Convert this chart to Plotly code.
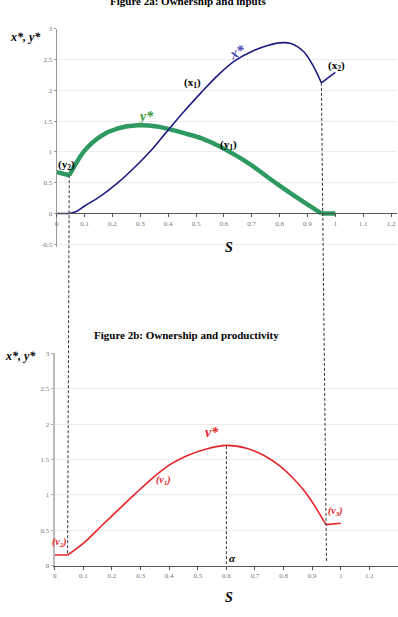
import plotly.graph_objects as go

# ---------------- data ----------------
S_x = [0, 0.045, 0.07, 0.1, 0.16, 0.22, 0.28, 0.34, 0.39, 0.46, 0.52, 0.58, 0.64,
       0.70, 0.76, 0.80, 0.84, 0.886, 0.92, 0.95, 1.0]
x_star = [0, 0, 0.03, 0.12, 0.29, 0.50, 0.75, 1.03, 1.30, 1.67, 1.97, 2.25, 2.48,
          2.63, 2.73, 2.77, 2.76, 2.63, 2.40, 2.12, 2.29]

S_y = [0, 0.045, 0.06, 0.1, 0.16, 0.22, 0.29, 0.36, 0.41, 0.46, 0.52, 0.58, 0.64,
       0.70, 0.76, 0.81, 0.875, 0.95, 1.0]
y_star = [0.67, 0.62, 0.74, 1.02, 1.26, 1.38, 1.43, 1.41, 1.36, 1.30, 1.22, 1.10, 0.95,
          0.78, 0.58, 0.42, 0.22, 0.0, 0.0]

S_v = [0, 0.045, 0.104, 0.163, 0.22, 0.28, 0.337, 0.40, 0.46, 0.53, 0.60, 0.67, 0.73,
       0.79, 0.83, 0.87, 0.90, 0.948, 1.0]
v_star = [0.15, 0.15, 0.33, 0.56, 0.78, 1.01, 1.22, 1.42, 1.55, 1.65, 1.70, 1.66, 1.56,
          1.40, 1.25, 1.07, 0.90, 0.58, 0.60]

x_ticks = [0, 0.1, 0.2, 0.3, 0.4, 0.5, 0.6, 0.7, 0.8, 0.9, 1.0, 1.1, 1.2]
x_tick_text = ["0", "0.1", "0.2", "0.3", "0.4", "0.5", "0.6", "0.7", "0.8", "0.9", "1", "1.1", "1.2"]
y_ticks_top = [-0.5, 0, 0.5, 1, 1.5, 2, 2.5, 3]
y_tick_text_top = ["-0.5", "0", "0.5", "1", "1.5", "2", "2.5", "3"]
y_ticks_bot = [0, 0.5, 1, 1.5, 2, 2.5, 3]
y_tick_text_bot = ["0", "0.5", "1", "1.5", "2", "2.5", "3"]

# key points (S values) for kinks / guide lines
S_low = 0.045
S_high = 0.95
S_high_v = 0.948
S_alpha = 0.6

W, H = 398, 617

# ---------------- layout geometry ----------------
top_xdom = [55 / W, 396.6 / W]
top_xrange = [0, 1.22]
top_yrange = [-0.55, 3]
top_ydom = [1 - 246.5 / H, 1 - 25 / H]

bot_xdom = [53 / W, 1.0]
bot_xrange = [0, 1.2]
bot_yrange = [0, 3]
bot_ydom = [1 - 569 / H, 1 - 354 / H]


def to_paper(v, rng, dom):
    return dom[0] + (v - rng[0]) / (rng[1] - rng[0]) * (dom[1] - dom[0])


def interp(xs, ys, x):
    for i in range(len(xs) - 1):
        if xs[i] <= x <= xs[i + 1]:
            t = (x - xs[i]) / (xs[i + 1] - xs[i])
            return ys[i] + t * (ys[i + 1] - ys[i])
    return ys[-1]


def segments(xs, ys, kinks):
    """split a series at kink x-values (kink point shared by both pieces)"""
    idx = [0] + [xs.index(k) for k in kinks] + [len(xs) - 1]
    return [(xs[a:b + 1], ys[a:b + 1]) for a, b in zip(idx[:-1], idx[1:])]


serif = "Liberation Serif, Times New Roman, serif"
tickfont = dict(family=serif, size=7, color="#777")

fig = go.Figure()


def add_curve(xs, ys, kinks, color, width, xa, ya):
    for sx, sy in segments(xs, ys, kinks):
        shape = "spline" if len(sx) > 2 else "linear"
        fig.add_trace(go.Scatter(x=sx, y=sy, mode="lines",
                                 line=dict(color=color, width=width, shape=shape, smoothing=1.0),
                                 xaxis=xa, yaxis=ya, hoverinfo="skip"))


add_curve(S_y, y_star, [S_low, S_high], "#2e9a62", 4.5, "x", "y")
add_curve(S_x, x_star, [S_low, S_high], "#1c1c84", 1.6, "x", "y")
add_curve(S_v, v_star, [S_low, S_high_v], "#e4262b", 1.6, "x2", "y2")

shapes = []
dash = dict(color="#333", width=1, dash="3px,2px")
shapes.append(dict(type="line", xref="paper", yref="paper",
                   x0=to_paper(S_low, top_xrange, top_xdom),
                   y0=to_paper(interp(S_y, y_star, S_low), top_yrange, top_ydom),
                   x1=to_paper(S_low, bot_xrange, bot_xdom),
                   y1=to_paper(interp(S_v, v_star, S_low), bot_yrange, bot_ydom),
                   line=dash, layer="above"))
shapes.append(dict(type="line", xref="paper", yref="paper",
                   x0=to_paper(S_high, top_xrange, top_xdom),
                   y0=to_paper(interp(S_x, x_star, S_high), top_yrange, top_ydom),
                   x1=to_paper(S_high, bot_xrange, bot_xdom),
                   y1=to_paper(0.05, bot_yrange, bot_ydom),
                   line=dash, layer="above"))
shapes.append(dict(type="line", xref="x2", yref="y2", x0=S_alpha, x1=S_alpha,
                   y0=0.02, y1=interp(S_v, v_star, S_alpha), line=dash, layer="above"))

ann = []


def a(text, x, y, xref, yref, size=11, color="black", **kw):
    ann.append(dict(text=text, x=x, y=y, xref=xref, yref=yref, showarrow=False,
                    xanchor="center", yanchor="middle",
                    font=dict(family=serif, size=size, color=color), **kw))


# top chart labels
a("<b><i>x*</i></b>", 0.648, 2.62, "x", "y", size=15, color="#4a4ab4", textangle=-25)
a("<b>(x<sub>1</sub>)</b>", 0.489, 2.12, "x", "y", size=11)
a("<b>(x<sub>2</sub>)</b>", 1.004, 2.40, "x", "y", size=11)
a("<b><i>y*</i></b>", 0.321, 1.57, "x", "y", size=14, color="#3a9a3a")
a("<b>(y<sub>1</sub>)</b>", 0.618, 1.11, "x", "y", size=11)
a("<b>(y<sub>2</sub>)</b>", 0.036, 0.79, "x", "y", size=11)

# bottom chart labels
a("<b><i>v*</i></b>", 0.55, 1.88, "x2", "y2", size=14, color="#e4262b")
a("<b><i>(v<sub>1</sub>)</i></b>", 0.379, 1.21, "x2", "y2", size=10, color="#e4262b")
a("<b><i>(v<sub>3</sub>)</i></b>", 0.981, 0.77, "x2", "y2", size=10, color="#e4262b")
a("<b><i>(v<sub>2</sub>)</i></b>", 0.017, 0.33, "x2", "y2", size=10, color="#e4262b")
a("<b><i>α</i></b>", 0.62, 0.11, "x2", "y2", size=11)

# titles and axis titles (paper)
a("<b>Figure 2a: Ownership and inputs</b>", 187 / W, 1 + 3 / H, "paper", "paper", size=11)
a("<b>Figure 2b: Ownership and productivity</b>", 185 / W, 1 - 335 / H, "paper", "paper", size=11)
a("<b><i>x*, y*</i></b>", 24 / W, 1 - 33 / H, "paper", "paper", size=12)
a("<b><i>x*, y*</i></b>", 19 / W, 1 - 357 / H, "paper", "paper", size=12)
a("<b><i>S</i></b>", 228 / W, 1 - 247 / H, "paper", "paper", size=14)
a("<b><i>S</i></b>", 228 / W, 1 - 601 / H, "paper", "paper", size=14)

fig.update_layout(
    width=W, height=H, margin=dict(l=0, r=0, t=0, b=0),
    paper_bgcolor="white", plot_bgcolor="white", showlegend=False,
    xaxis=dict(domain=top_xdom, range=top_xrange, anchor="free",
               position=to_paper(0, top_yrange, top_ydom),
               tickvals=x_ticks, ticktext=x_tick_text, tickfont=tickfont,
               showline=True, linecolor="#555", linewidth=1, ticks="outside",
               ticklen=3, tickcolor="#555", showgrid=False, zeroline=False),
    yaxis=dict(domain=top_ydom, range=top_yrange, anchor="x",
               tickvals=y_ticks_top, ticktext=y_tick_text_top, tickfont=tickfont,
               showline=True, linecolor="#999", linewidth=1, ticks="outside",
               ticklen=2, tickcolor="#999", showgrid=True, gridcolor="#ececec",
               zeroline=False),
    xaxis2=dict(domain=bot_xdom, range=bot_xrange, anchor="y2",
                tickvals=x_ticks, ticktext=x_tick_text, tickfont=tickfont,
                showline=True, linecolor="#555", linewidth=1, ticks="outside",
                ticklen=3, tickcolor="#555", showgrid=False, zeroline=False),
    yaxis2=dict(domain=bot_ydom, range=bot_yrange, anchor="x2",
                tickvals=y_ticks_bot, ticktext=y_tick_text_bot, tickfont=tickfont,
                showline=True, linecolor="#bbb", linewidth=2, ticks="outside",
                ticklen=2, tickcolor="#aaa", showgrid=True, gridcolor="#ececec",
                zeroline=False),
    shapes=shapes, annotations=ann,
)

fig.write_html("out.html")
